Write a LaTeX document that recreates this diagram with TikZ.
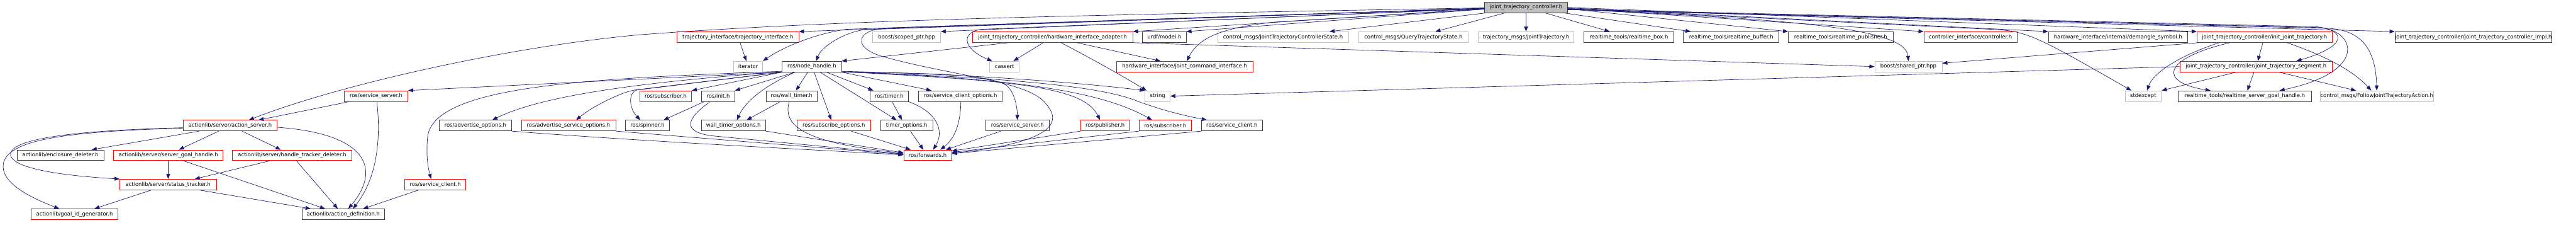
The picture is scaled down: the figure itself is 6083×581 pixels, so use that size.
\documentclass[tikz,border=0pt]{standalone}
\usepackage{fontspec}
\setmainfont{DejaVu Sans}
\usetikzlibrary{arrows.meta}
\definecolor{edgec}{HTML}{191970}
\definecolor{grayb}{HTML}{BFBFBF}
\definecolor{darkb}{HTML}{404040}
\tikzset{
  box/.style={draw, line width=1.2pt, minimum height=25pt, inner sep=0pt, font=\fontsize{12.5}{14}\selectfont},
  redbox/.style={box, draw=red},
  blkbox/.style={box, draw=darkb},
  grybox/.style={box, draw=grayb},
  rootbox/.style={box, draw=darkb, fill=grayb},
  edge/.style={draw=edgec, line width=1.0pt, -{Triangle[length=12pt,width=9pt]}},
}
\newcommand{\nd}[6]{\node[#2, minimum width={(#4-#3)*1pt}] (#1) at ({(#3+#4)/2},#5) {#6};}
\begin{document}
\begin{tikzpicture}[x=1pt,y=-1pt]
\fill[white] (0,0) rectangle (6083,581);
\useasboundingbox (0,0) rectangle (6083,581);
% level 0
\nd{root}{rootbox}{3506}{3701}{17.5}{joint\_trajectory\_controller.h}
% level 1
\nd{tif}{redbox}{1599}{1886}{87.5}{trajectory\_interface/trajectory\_interface.h}
\nd{scp}{grybox}{2061}{2221}{87.5}{boost/scoped\_ptr.hpp}
\nd{hwa}{redbox}{2296}{2675}{87.5}{joint\_trajectory\_controller/hardware\_interface\_adapter.h}
\nd{urdf}{blkbox}{2698}{2801}{87.5}{urdf/model.h}
\nd{jtcs}{grybox}{2875}{3184}{87.5}{control\_msgs/JointTrajectoryControllerState.h}
\nd{qts}{grybox}{3208}{3467}{87.5}{control\_msgs/QueryTrajectoryState.h}
\nd{jtm}{grybox}{3490}{3717}{87.5}{trajectory\_msgs/JointTrajectory.h}
\nd{rtbox}{blkbox}{3740}{3953}{87.5}{realtime\_tools/realtime\_box.h}
\nd{rtbuf}{blkbox}{3975}{4201}{87.5}{realtime\_tools/realtime\_buffer.h}
\nd{rtpub}{blkbox}{4223}{4470}{87.5}{realtime\_tools/realtime\_publisher.h}
\nd{ctrl}{redbox}{4543}{4763}{87.5}{controller\_interface/controller.h}
\nd{dem}{blkbox}{4837}{5166}{87.5}{hardware\_interface/internal/demangle\_symbol.h}
\nd{ijt}{redbox}{5188}{5507}{87.5}{joint\_trajectory\_controller/init\_joint\_trajectory.h}
\nd{impl}{blkbox}{5663}{6018}{87.5}{joint\_trajectory\_controller/joint\_trajectory\_controller\_impl.h}
% level 2
\nd{iter}{grybox}{1732}{1801}{157}{iterator}
\nd{nh}{blkbox}{1847}{1987}{157}{ros/node\_handle.h}
\nd{cas}{grybox}{2337}{2407}{157}{cassert}
\nd{jci}{redbox}{2636}{2959}{157}{hardware\_interface/joint\_command\_interface.h}
\nd{shp}{grybox}{4427}{4586}{157}{boost/shared\_ptr.hpp}
\nd{seg}{redbox}{5148}{5507}{157}{joint\_trajectory\_controller/joint\_trajectory\_segment.h}
% level 3
\nd{ssrvA}{redbox}{813}{963}{226.5}{ros/service\_server.h}
\nd{subA}{redbox}{1511}{1633}{226.5}{ros/subscriber.h}
\nd{init}{blkbox}{1657}{1735}{226.5}{ros/init.h}
\nd{wt}{blkbox}{1809}{1930}{226.5}{ros/wall\_timer.h}
\nd{tmr}{blkbox}{2054}{2145}{226.5}{ros/timer.h}
\nd{sco}{blkbox}{2169}{2367}{226.5}{ros/service\_client\_options.h}
\nd{str}{grybox}{2704}{2763}{226.5}{string}
\nd{stdx}{grybox}{5018}{5104}{226.5}{stdexcept}
\nd{rsgh}{blkbox}{5144}{5458}{226.5}{realtime\_tools/realtime\_server\_goal\_handle.h}
\nd{fjta}{grybox}{5481}{5744}{226.5}{control\_msgs/FollowJointTrajectoryAction.h}
% level 4
\nd{as}{redbox}{433}{654}{296}{actionlib/server/action\_server.h}
\nd{ao}{blkbox}{1037}{1208}{296}{ros/advertise\_options.h}
\nd{aso}{redbox}{1231}{1454}{296}{ros/advertise\_service\_options.h}
\nd{spin}{blkbox}{1477}{1581}{296}{ros/spinner.h}
\nd{wto}{blkbox}{1656}{1808}{296}{wall\_timer\_options.h}
\nd{so}{redbox}{1882}{2056}{296}{ros/subscribe\_options.h}
\nd{to}{blkbox}{2079}{2203}{296}{timer\_options.h}
\nd{ssrvB}{blkbox}{2328}{2477}{296}{ros/service\_server.h}
\nd{pub}{redbox}{2552}{2667}{296}{ros/publisher.h}
\nd{subB}{redbox}{2690}{2813}{296}{ros/subscriber.h}
\nd{scliB}{blkbox}{2837}{2981}{296}{ros/service\_client.h}
% level 5
\nd{ed}{blkbox}{40}{245}{366}{actionlib/enclosure\_deleter.h}
\nd{sgh}{redbox}{268}{527}{366}{actionlib/server/server\_goal\_handle.h}
\nd{htd}{redbox}{549}{831}{366}{actionlib/server/handle\_tracker\_deleter.h}
\nd{fwd}{redbox}{2134}{2247}{366}{ros/forwards.h}
% level 6
\nd{st}{redbox}{283}{511}{435}{actionlib/server/status\_tracker.h}
\nd{scliA}{redbox}{956}{1100}{435}{ros/service\_client.h}
% level 7
\nd{gid}{redbox}{73}{279}{505}{actionlib/goal\_id\_generator.h}
\nd{ad}{blkbox}{713}{908}{505}{actionlib/action\_definition.h}

% ---------- root edges
\draw[edge] ([yshift=-2pt]root.west) -- (tif.north east);
\draw[edge] ([yshift=-2pt]root.west) -- (scp.north east);
\draw[edge] ([yshift=-3pt]root.west) -- (hwa.north east);
\draw[edge] ([yshift=-4pt]root.west) -- (urdf.north east);
\draw[edge] ([xshift=3pt]root.south west) -- ([xshift=110pt]jtcs.north);
\draw[edge] ([xshift=-50pt]root.south) -- ([xshift=52pt]qts.north);
\draw[edge] (root) -- (jtm);
\draw[edge] (root) -- (rtbox);
\draw[edge] ([xshift=-8pt]root.south east) -- ([xshift=18pt]rtbuf.north west);
\draw[edge] ([yshift=-3pt]root.east) -- (rtpub.north west);
\draw[edge] ([yshift=-4pt]root.east) .. controls (4200,45) and (4500,62) .. (shp.north);
\draw[edge] ([yshift=-2pt]root.east) -- (ctrl.north west);
\draw[edge] ([yshift=-1pt]root.east) -- (dem.north west);
\draw[edge] (root.east) -- (ijt.north west);
\draw[edge] ([yshift=-3pt]root.east) -- (4700,69) .. controls (4785,73) and (4800,80) .. ([xshift=-28pt]stdx.north);
\draw[edge] ([yshift=-4pt]root.east) -- (5470,63) .. controls (5545,72) and (5540,110) .. ([xshift=95pt]seg.north);
\draw[edge] ([yshift=-5pt]root.east) -- (5480,65) .. controls (5565,75) and (5590,170) .. ([xshift=82pt]rsgh.north);
\draw[edge] ([yshift=-5pt]root.east) -- (5500,67) .. controls (5580,72) and (5610,120) .. (fjta.north);
\draw[edge] ([yshift=-5pt]root.east) -- (impl.north west);
\draw[edge] ([yshift=-4pt]root.west) -- (3010,52) .. controls (2880,66) and (2830,90) .. ([xshift=5pt]jci.north);
\draw[edge] ([yshift=-3pt]root.west) -- (2320,69) .. controls (2268,74) and (2272,115) .. ([xshift=-29pt]cas.north);
\draw[edge] ([yshift=-2pt]root.west) -- (2000,69) .. controls (1930,78) and (1850,110) .. (iter.north east);
\draw[edge] ([yshift=-2pt]root.west) -- (2040,70) .. controls (1990,78) and (1940,110) .. ([xshift=10pt]nh.north);
\draw[edge] ([yshift=-1pt]root.west) .. controls (2600,35) and (2000,45) .. (1510,82) .. controls (1200,110) and (800,200) .. ([xshift=44pt]as.north);
\draw[edge] ([yshift=-2pt]root.west) -- (2090,66) .. controls (2020,72) and (2015,112) .. (2080,132) .. controls (2250,180) and (2430,190) .. (2470,245) .. controls (2520,300) and (2450,340) .. ([yshift=5pt]fwd.east);

% ---------- node_handle edges
\draw[edge] ([xshift=1pt]nh.south west) -- (ssrvA.north east);
\draw[edge] ([yshift=2pt]nh.south west) .. controls (1400,185) and (1030,200) .. (1010,320) .. controls (1005,370) and (1012,400) .. ([xshift=-10pt]scliA.north);
\draw[edge] ([yshift=1pt]nh.south west) .. controls (1600,188) and (1300,215) .. ([xshift=40pt]ao.north);
\draw[edge] (nh.south west) -- (1500,212) .. controls (1470,216) and (1400,250) .. ([xshift=18pt]aso.north);
\draw[edge] (nh.south west) -- (1505,212) .. controls (1483,216) and (1485,255) .. ([xshift=-17pt]spin.north);
\draw[edge] (nh.south west) -- (subA.north east);
\draw[edge] ([xshift=31pt]nh.south west) -- (init.north east);
\draw[edge] ([xshift=31pt]nh.south west) .. controls (1800,205) and (1760,240) .. ([xshift=8pt]wto.north);
\draw[edge] ([xshift=61pt]nh.south west) -- ([xshift=10pt]wt.north);
\draw[edge] ([xshift=76pt]nh.south west) -- ([xshift=-6pt]so.north);
\draw[edge] ([xshift=105pt]nh.south west) -- ([xshift=9pt]tmr.north west);
\draw[edge] ([xshift=90pt]nh.south west) -- ([xshift=-24pt]to.north);
\draw[edge] (nh.south east) -- ([xshift=31pt]sco.north west);
\draw[edge] (nh.south east) .. controls (2200,172) and (2330,175) .. (2375,200) .. controls (2395,215) and (2402,250) .. (ssrvB.north);
\draw[edge] ([yshift=2pt]nh.south east) .. controls (2300,175) and (2550,195) .. (str.north west);
\draw[edge] ([yshift=1pt]nh.south east) .. controls (2400,190) and (2560,205) .. ([xshift=-12pt]pub.north);
\draw[edge] ([yshift=1pt]nh.south east) .. controls (2400,185) and (2600,215) .. ([xshift=-31pt]subB.north);
\draw[edge] ([yshift=1pt]nh.south east) .. controls (2450,185) and (2620,210) .. (2690,240) .. controls (2760,265) and (2810,275) .. ([xshift=-59pt]scliB.north);

% ---------- other upper edges
\draw[edge] ([xshift=5pt]tif.south) -- ([xshift=-4pt]iter.north);
\draw[edge] ([xshift=-103pt]hwa.south) -- (nh.north east);
\draw[edge] ([xshift=-22pt]hwa.south) -- ([xshift=21pt]cas.north);
\draw[edge] ([xshift=20pt]hwa.south) .. controls (2600,150) and (2660,185) .. ([xshift=-26pt]str.north);
\draw[edge] ([xshift=57pt]hwa.south) -- ([xshift=-57pt]jci.north);
\draw[edge] (hwa.south east) -- (shp.west);
\draw[edge] ([xshift=5pt]ijt.south west) -- ([yshift=8pt]shp.east);
\draw[edge] ([xshift=-107pt]ijt.south) .. controls (5150,130) and (5085,170) .. ([xshift=9pt]stdx.north);
\draw[edge] ([xshift=-82pt]ijt.south) .. controls (5100,140) and (5100,195) .. ([xshift=-81pt]rsgh.north);
\draw[edge] ([xshift=-4pt]ijt.south) -- ([xshift=4pt]seg.north);
\draw[edge] ([xshift=53pt]ijt.south) .. controls (5500,135) and (5560,170) .. ([xshift=-13pt]fjta.north);
\draw[edge] (seg.west) -- (str.east);
\draw[edge] ([xshift=-47pt]seg.south) -- (stdx.north east);
\draw[edge] ([xshift=-5pt]seg.south) -- ([xshift=6pt]rsgh.north);
\draw[edge] ([xshift=54pt]seg.south) -- ([xshift=-49pt]fjta.north);

% ---------- actionlib edges
\draw[edge] ([xshift=-63pt]ssrvA.south) -- ([xshift=67pt]as.north);
\draw[edge] ([xshift=2pt]ssrvA.south) .. controls (900,330) and (890,420) .. ([xshift=23pt]ad.north);
\draw[edge] ([xshift=-40pt]scliA.south) -- ([xshift=47pt]ad.north);
\draw[edge] ([xshift=-73pt]as.south) -- ([xshift=74pt]ed.north);
\draw[edge] ([xshift=-27pt]as.south) -- ([xshift=25pt]sgh.north);
\draw[edge] ([yshift=-6pt]as.west) .. controls (150,310) and (20,330) .. (8,385) .. controls (0,430) and (70,465) .. ([xshift=-36pt]gid.north);
\draw[edge] ([yshift=-5pt]as.west) .. controls (150,308) and (30,330) .. (25,362) .. controls (22,385) and (80,410) .. (st.north west);
\draw[edge] ([xshift=28pt]as.south) -- ([xshift=-27pt]htd.north);
\draw[edge] ([yshift=-4pt]as.east) .. controls (870,315) and (900,400) .. ([xshift=12pt]ad.north);
\draw[edge] (sgh) -- (st);
\draw[edge] ([xshift=36pt]sgh.south) -- ([xshift=-43pt]ad.north);
\draw[edge] ([xshift=-53pt]htd.south) -- ([xshift=63pt]st.north);
\draw[edge] ([xshift=10pt]htd.south) -- ([xshift=-13pt]ad.north);
\draw[edge] ([xshift=-40pt]st.south) -- ([xshift=47pt]gid.north);
\draw[edge] ([xshift=75pt]st.south) -- ([xshift=-77pt]ad.north);

% ---------- ros edges to forwards
\draw[edge] ([xshift=-33pt]init.south) -- ([xshift=38pt]spin.north);
\draw[edge] ([xshift=-19pt]init.south) .. controls (1620,280) and (1610,310) .. (1680,320) -- ([yshift=3pt]fwd.west);
\draw[edge] ([xshift=-27pt]wt.south) -- ([xshift=31pt]wto.north);
\draw[edge] ([xshift=-6pt]wt.south) .. controls (1850,290) and (1880,335) .. ([yshift=5pt]fwd.west);
\draw[edge] (wto.south east) -- ([yshift=6pt]fwd.west);
\draw[edge] ([xshift=41pt]so.south) -- ([xshift=-40pt]fwd.north);
\draw[edge] ([xshift=7pt]tmr.south) -- ([xshift=-11pt]to.north);
\draw[edge] (tmr.south east) .. controls (2215,265) and (2230,310) .. ([xshift=13pt]fwd.north);
\draw[edge] ([xshift=9pt]to.south) -- ([xshift=-10pt]fwd.north);
\draw[edge] ([xshift=1pt]sco.south) .. controls (2268,300) and (2250,330) .. ([xshift=30pt]fwd.north);
\draw[edge] ([xshift=-39pt]ssrvB.south) -- ([xshift=43pt]fwd.north);
\draw[edge] (pub.south west) -- ([yshift=10pt]fwd.east);
\draw[edge] (subB.south west) -- ([yshift=7pt]fwd.east);
\draw[edge] (scliB.south west) -- ([yshift=4pt]fwd.east);
\draw[edge] (ao.south east) .. controls (1500,332) and (1900,352) .. ([yshift=1pt]fwd.west);
\draw[edge] (aso.south east) -- ([yshift=2pt]fwd.west);
\end{tikzpicture}
\end{document}
